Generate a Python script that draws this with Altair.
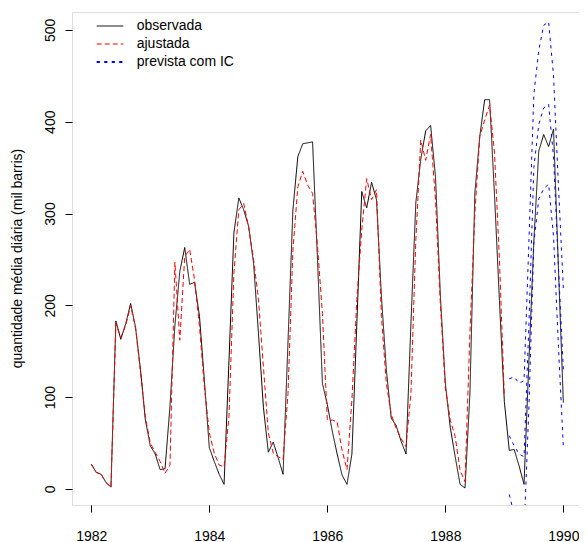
import altair as alt
import pandas as pd

start_year = 1982
obs = [27, 18, 16, 7, 2, 183, 163, 180, 202, 176, 130, 75,
       47, 38, 21, 22, 90, 178, 237, 263, 223, 225, 188, 118,
       45, 30, 16, 5, 140, 279, 317, 304, 286, 246, 169, 89,
       40, 51, 34, 16, 160, 304, 362, 376, 377, 378, 250, 115,
       92, 63, 38, 15, 5, 38, 180, 324, 306, 334, 315, 210,
       130, 77, 69, 52, 38, 180, 312, 359, 390, 396, 340, 209,
       115, 67, 35, 5, 1, 104, 322, 384, 424, 424, 320, 205,
       95, 42, 43, 25, 5, 140, 270, 368, 386, 373, 392, 240,
       94]
fit = [27, 18, 16, 7, 2, 180, 165, 178, 200, 175, 128, 78,
       50, 40, 30, 17, 26, 247, 162, 253, 261, 228, 177, 111,
       61, 39, 26, 24, 79, 235, 304, 311, 285, 250, 206, 133,
       61, 39, 35, 32, 104, 260, 329, 346, 331, 322, 265, 191,
       75, 75, 73, 42, 21, 97, 206, 282, 338, 315, 326, 188,
       115, 81, 66, 55, 46, 104, 271, 380, 358, 386, 315, 200,
       110, 75, 57, 20, 8, 170, 300, 384, 402, 418, 366, 250,
       100]
fc_start = 85
prev_mid = [58, 47, 38, 35, 180, 350, 397, 415, 419, 362, 242, 129]
prev_up = [120, 122, 115, 118, 270, 430, 478, 505, 509, 450, 330, 218]
prev_lo = [-6, -28, -39, -48, 90, 268, 316, 327, 332, 275, 155, 45]

series_names = ["observada", "ajustada", "prevista com IC"]
series_colors = ["#000000", "#FF0000", "#0000FF"]
series_dash = [[1, 0], [5, 3], [3.2, 4.3]]
series_width = [1, 1, 2]
x_ticks = [1982, 1984, 1986, 1988, 1990]
y_ticks = [0, 100, 200, 300, 400, 500]

rows = []
def add(vals, offset, serie, linha):
    for k, v in enumerate(vals):
        rows.append({"t": start_year + (offset + k) / 12.0, "v": v,
                     "serie": serie, "linha": linha})

add(obs, 0, series_names[0], "obs")
add(fit, 0, series_names[1], "fit")
add(prev_up, fc_start, series_names[2], "up")
add(prev_mid, fc_start, series_names[2], "mid")
add(prev_lo, fc_start, series_names[2], "lo")
df = pd.DataFrame(rows)

FONT = "Liberation Sans"
FS = 14

lines = alt.Chart(df).mark_line(clip=True).encode(
    x=alt.X("t:Q",
            scale=alt.Scale(domain=[1981.673, 1990.265], nice=False, zero=False),
            axis=alt.Axis(values=x_ticks, format="d", title=None, grid=False,
                          domain=False, tickSize=7, tickColor="black",
                          labelColor="black", labelFontSize=FS, labelFont=FONT,
                          labelBaseline="alphabetic", labelPadding=28,
                          labelFlush=False)),
    y=alt.Y("v:Q",
            scale=alt.Scale(domain=[-17.5, 519.5], nice=False, zero=False),
            axis=alt.Axis(values=y_ticks, title="quantidade média diária (mil barris)",
                          grid=False, domain=False, tickSize=7, tickColor="black",
                          labelColor="black", labelFontSize=FS, labelFont=FONT,
                          labelAngle=270, labelAlign="center",
                          labelBaseline="alphabetic", labelPadding=11,
                          titleFont=FONT, titleFontSize=FS, titleFontWeight="normal",
                          titleColor="black", titleAngle=270,
                          titleX=-51, titleY=246, titleAlign="center",
                          titleBaseline="alphabetic")),
    color=alt.Color("serie:N",
                    scale=alt.Scale(domain=series_names, range=series_colors),
                    legend=None),
    strokeDash=alt.StrokeDash("serie:N",
                              scale=alt.Scale(domain=series_names, range=series_dash),
                              legend=None),
    strokeWidth=alt.StrokeWidth("serie:N",
                                scale=alt.Scale(domain=series_names, range=series_width),
                                legend=None),
    detail="linha:N",
    order=alt.Order("t:Q"),
)

# manual legend (R style, top-left)
leg_rows = [14, 32, 50]
layers = [lines]
for k, name in enumerate(series_names):
    ldf = pd.DataFrame({"serie": [name]})
    rule = alt.Chart(ldf).mark_rule(
        stroke=series_colors[k], color=series_colors[k],
        strokeDash=series_dash[k], strokeWidth=series_width[k]
    ).encode(x=alt.value(24.7), x2=alt.value(51.3), y=alt.value(leg_rows[k]))
    txt = alt.Chart(ldf).mark_text(
        align="left", baseline="middle", font=FONT, fontSize=FS, color="black"
    ).encode(x=alt.value(64.7), y=alt.value(leg_rows[k]), text="serie:N")
    layers += [rule, txt]

chart = alt.layer(*layers).properties(
    width=507, height=493,
    autosize=alt.AutoSizeParams(type="none"),
    padding={"left": 64, "top": 4, "right": 0, "bottom": 37},
).configure_view(
    stroke="black", strokeWidth=1
).configure(background="white")

chart.save("out.html", embed_options={"renderer": "svg", "actions": False})
